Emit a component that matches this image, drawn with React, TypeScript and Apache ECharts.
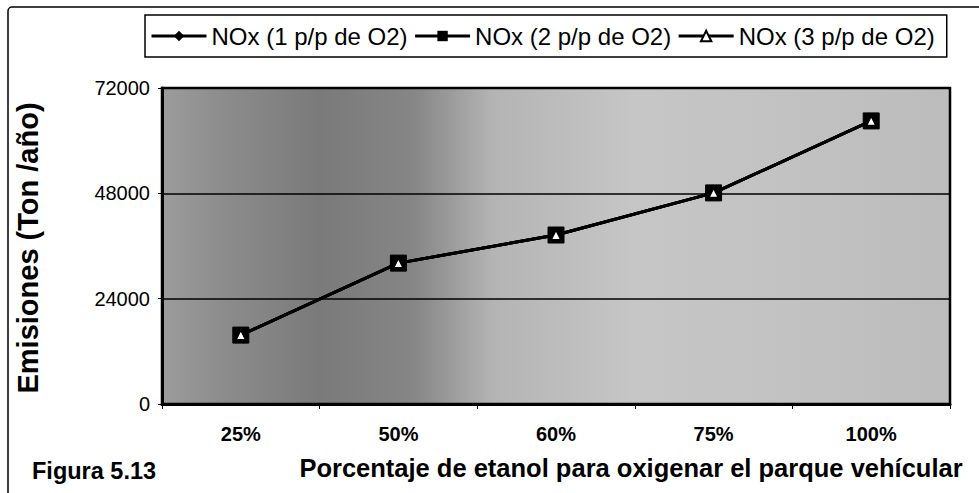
import React, { useEffect, useRef } from "react";
import * as echarts from "echarts";

const categories = ["25%", "50%", "60%", "75%", "100%"];
const nox1 = [15700, 32100, 38500, 48100, 64500];
const nox2 = [15700, 32100, 38500, 48100, 64500];
const nox3 = [15700, 32100, 38500, 48100, 64500];
const seriesNames = ["NOx (1 p/p de O2)", "NOx (2 p/p de O2)", "NOx (3 p/p de O2)"];
const yMin = 0;
const yMax = 72000;
const yInterval = 24000;

const FONT = '"Liberation Sans", Arial, sans-serif';

export default function App() {
  const ref = useRef<HTMLDivElement>(null);
  useEffect(() => {
    if (!ref.current) return;
    const chart = echarts.init(ref.current, null, { renderer: "svg" });
    const lineStyle = { color: "#000", width: 3 };
    chart.setOption({
      animation: false,
      backgroundColor: "#fff",
      textStyle: { fontFamily: FONT, color: "#000" },
      legend: {
        left: 145,
        top: 15,
        padding: [9, 12, 9, 5],
        itemGap: 6,
        itemWidth: 55,
        itemHeight: 13,
        borderColor: "#000",
        borderWidth: 1.5,
        lineStyle: { width: 3, color: "#000" },
        textStyle: { fontSize: 24, fontFamily: FONT, color: "#000" },
        data: seriesNames,
      },
      grid: {
        left: 162,
        right: 29,
        top: 88,
        bottom: 89,
        show: true,
        borderColor: "#000",
        borderWidth: 2.5,
        backgroundColor: new echarts.graphic.LinearGradient(0, 0, 1, 0, [
          { offset: 0, color: "#9c9c9c" },
          { offset: 0.08, color: "#8c8c8c" },
          { offset: 0.2, color: "#7a7a7a" },
          { offset: 0.32, color: "#868686" },
          { offset: 0.42, color: "#b4b4b4" },
          { offset: 0.6, color: "#c6c6c6" },
          { offset: 0.8, color: "#c2c2c2" },
          { offset: 1, color: "#bcbcbc" },
        ]),
      },
      xAxis: {
        type: "category",
        data: categories,
        boundaryGap: true,
        axisLine: { show: true, lineStyle: { color: "#000", width: 3 } },
        axisTick: { show: true, length: 5, alignWithLabel: false, lineStyle: { color: "#000", width: 1 } },
        axisLabel: { fontSize: 20, fontWeight: "bold", color: "#000", fontFamily: FONT, margin: 20 },
        splitLine: { show: false },
      },
      yAxis: {
        type: "value",
        min: yMin,
        max: yMax,
        interval: yInterval,
        axisLine: { show: true, lineStyle: { color: "#000", width: 3 } },
        axisTick: { show: true, length: 4, lineStyle: { color: "#000", width: 1 } },
        axisLabel: {
          fontSize: 20,
          color: "#000",
          fontFamily: FONT,
          margin: 12,
          formatter: (v: number) => String(v),
        },
        splitLine: { show: true, lineStyle: { color: "#000", width: 1.5 } },
      },
      graphic: [
        {
          type: "rect",
          silent: true,
          shape: { x: 8, y: 7, width: 1100, height: 700, r: 4 },
          style: { fill: "none", stroke: "#000", lineWidth: 1.5 },
        },
        {
          type: "text",
          x: 28,
          y: 248,
          rotation: Math.PI / 2,
          style: {
            text: "Emisiones (Ton /año)",
            fontSize: 29,
            fontWeight: "bold",
            fontFamily: FONT,
            fill: "#000",
            align: "center",
            verticalAlign: "middle",
          },
        },
        {
          type: "text",
          x: 631,
          y: 468,
          style: {
            text: "Porcentaje de etanol para oxigenar el parque vehícular",
            fontSize: 25.5,
            fontWeight: "bold",
            fontFamily: FONT,
            fill: "#000",
            align: "center",
            verticalAlign: "middle",
          },
        },
        {
          type: "text",
          x: 32,
          y: 471,
          style: {
            text: "Figura 5.13",
            fontSize: 23.5,
            fontWeight: "bold",
            fontFamily: FONT,
            fill: "#000",
            align: "left",
            verticalAlign: "middle",
          },
        },
      ],
      series: [
        {
          name: seriesNames[0],
          type: "line",
          data: nox1,
          symbol: "diamond",
          symbolSize: 13,
          lineStyle,
          itemStyle: { color: "#000", borderColor: "#000" },
        },
        {
          name: seriesNames[1],
          type: "line",
          data: nox2,
          symbol: "rect",
          symbolSize: 16,
          lineStyle,
          itemStyle: { color: "#000", borderColor: "#000" },
        },
        {
          name: seriesNames[2],
          type: "line",
          data: nox3,
          symbol: "triangle",
          symbolSize: 9,
          lineStyle,
          itemStyle: { color: "#fff", borderColor: "#000", borderWidth: 1.2 },
        },
      ],
    });
    return () => chart.dispose();
  }, []);
  return (
    <div
      ref={ref}
      style={{ position: "absolute", left: 0, top: 0, width: 979, height: 493, background: "#fff" }}
    />
  );
}
